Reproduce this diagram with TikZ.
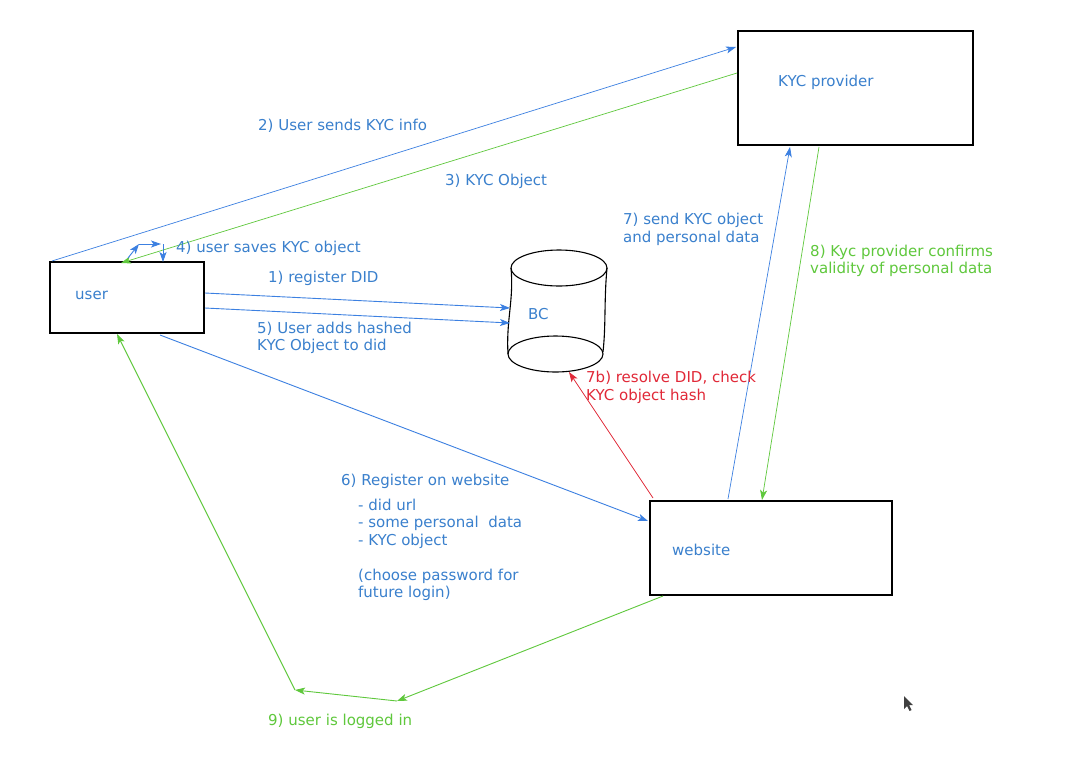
\documentclass[tikz,border=0pt]{standalone}
\usepackage{fontspec}
\setmainfont{DejaVu Sans}
\usetikzlibrary{arrows.meta,calc}
\definecolor{lblue}{RGB}{60,128,225}
\definecolor{tblue}{RGB}{58,128,205}
\definecolor{lgreen}{RGB}{95,200,60}
\definecolor{lred}{RGB}{225,40,55}
\tikzset{
  box/.style={draw=black,line width=1.1pt,minimum width=#1,inner sep=0pt},
  lbl/.style={anchor=west,inner sep=0pt,align=left,font=\fontsize{15}{17.5}\selectfont},
  con/.style={line width=0.9pt,-{Stealth[length=10pt,width=7pt,inset=2.5pt]}},
}
\begin{document}
\begin{tikzpicture}[x=1pt,y=-1pt]
\useasboundingbox (0,0) rectangle (1084,761);
\fill[white] (0,0) rectangle (1084,761);
% boxes
\node[box=154pt,minimum height=71pt] (user) at (127,297.5) {};
\node[box=235pt,minimum height=114pt] (kyc) at (855.5,88) {};
\node[box=242pt,minimum height=94pt] (web) at (771,548) {};
\node[lbl,text=tblue] (usert) at (75,295) {user};
\node[lbl,text=tblue] (kyct) at (778,82) {KYC provider};
\node[lbl,text=tblue] (webt) at (672,550) {website};
% BC cylinder
\coordinate (bc) at (558,312);
\draw[line width=1.1pt] (559,268) ellipse [x radius=48,y radius=18];
\draw[line width=1.1pt] (555.5,354) ellipse [x radius=47.5,y radius=18];
\draw[line width=1.1pt] (511,268) .. controls (514,300) and (506,320) .. (508,354);
\draw[line width=1.1pt] (607,268) .. controls (604,300) and (606,325) .. (603,352);
\node[lbl,text=tblue] (bct) at (528,314) {BC};
% coordinates
\coordinate (u2) at (52,261);
\coordinate (k2) at (736,47);
\coordinate (k3) at (737,73);
\coordinate (u3) at (121,263);
\coordinate (u1) at (205,293);
\coordinate (b1) at (510,308);
\coordinate (u5) at (205,308);
\coordinate (b5) at (510,323);
\coordinate (u6) at (160,335);
\coordinate (w6) at (648,521);
\coordinate (w7) at (728,499);
\coordinate (k7) at (790,147);
\coordinate (k8) at (819,147);
\coordinate (w8) at (762,500);
\coordinate (w7b) at (653,498);
\coordinate (b7b) at (569,372);
\coordinate (w9) at (663,596);
\coordinate (m9) at (397,701);
\coordinate (n9) at (295,690);
\coordinate (u9) at (117,334);
\coordinate (a4) at (128,258);
\coordinate (b4) at (139,244);
\coordinate (c4) at (161,244);
\coordinate (d4) at (163,244);
\coordinate (e4) at (163,262);
% connectors
\draw[con,lblue,line width=0.7pt] (u2) -- (k2);
\draw[con,lgreen,line width=0.7pt] (k3) -- (u3);
\draw[con,lblue] (a4) -- (b4);
\draw[con,lblue] (b4) -- (c4);
\draw[con,lblue] (d4) -- (e4);
\draw[con,lblue] (u1) -- (b1);
\draw[con,lblue] (u5) -- (b5);
\draw[con,lblue] (u6) -- (w6);
\draw[con,lblue,line width=0.7pt] (w7) -- (k7);
\draw[con,lgreen,line width=0.7pt] (k8) -- (w8);
\draw[con,lred,line width=0.7pt] (w7b) -- (b7b);
\draw[con,lgreen] (w9) -- (m9);
\draw[con,lgreen] (m9) -- (n9);
\draw[con,lgreen] (n9) -- (u9);
% labels
\node[lbl,text=tblue] (l2) at (258,126) {2) User sends KYC info};
\node[lbl,text=tblue] (l3) at (445,181) {3) KYC Object};
\node[lbl,text=tblue] (l4) at (176,248) {4) user saves KYC object};
\node[lbl,text=tblue] (l1) at (268,278) {1) register DID};
\node[lbl,text=tblue] (l5) at (257,338) {5) User adds hashed\\KYC Object to did};
\node[lbl,text=tblue] (l6) at (341,481) {6) Register on website};
\node[lbl,text=tblue] (l6b) at (358,550) {- did url\\- some personal\ \ data\\- KYC object\\\\(choose password for\\future login)};
\node[lbl,text=tblue] (l7) at (623,229.5) {7) send KYC object\\and personal data};
\node[lbl,text=lgreen] (l8) at (810,261) {8) Kyc provider confirms\\validity of personal data};
\node[lbl,text=lred] (l7b) at (586,387.5) {7b) resolve DID, check\\KYC object hash};
\node[lbl,text=lgreen] (l9) at (268,721) {9) user is logged in};
% cursor
\fill[black!75] (904,696) -- (904,709) -- (907,706) -- (909.5,711) -- (911.5,710) -- (909,705) -- (913,705) -- cycle;
\end{tikzpicture}
\end{document}
